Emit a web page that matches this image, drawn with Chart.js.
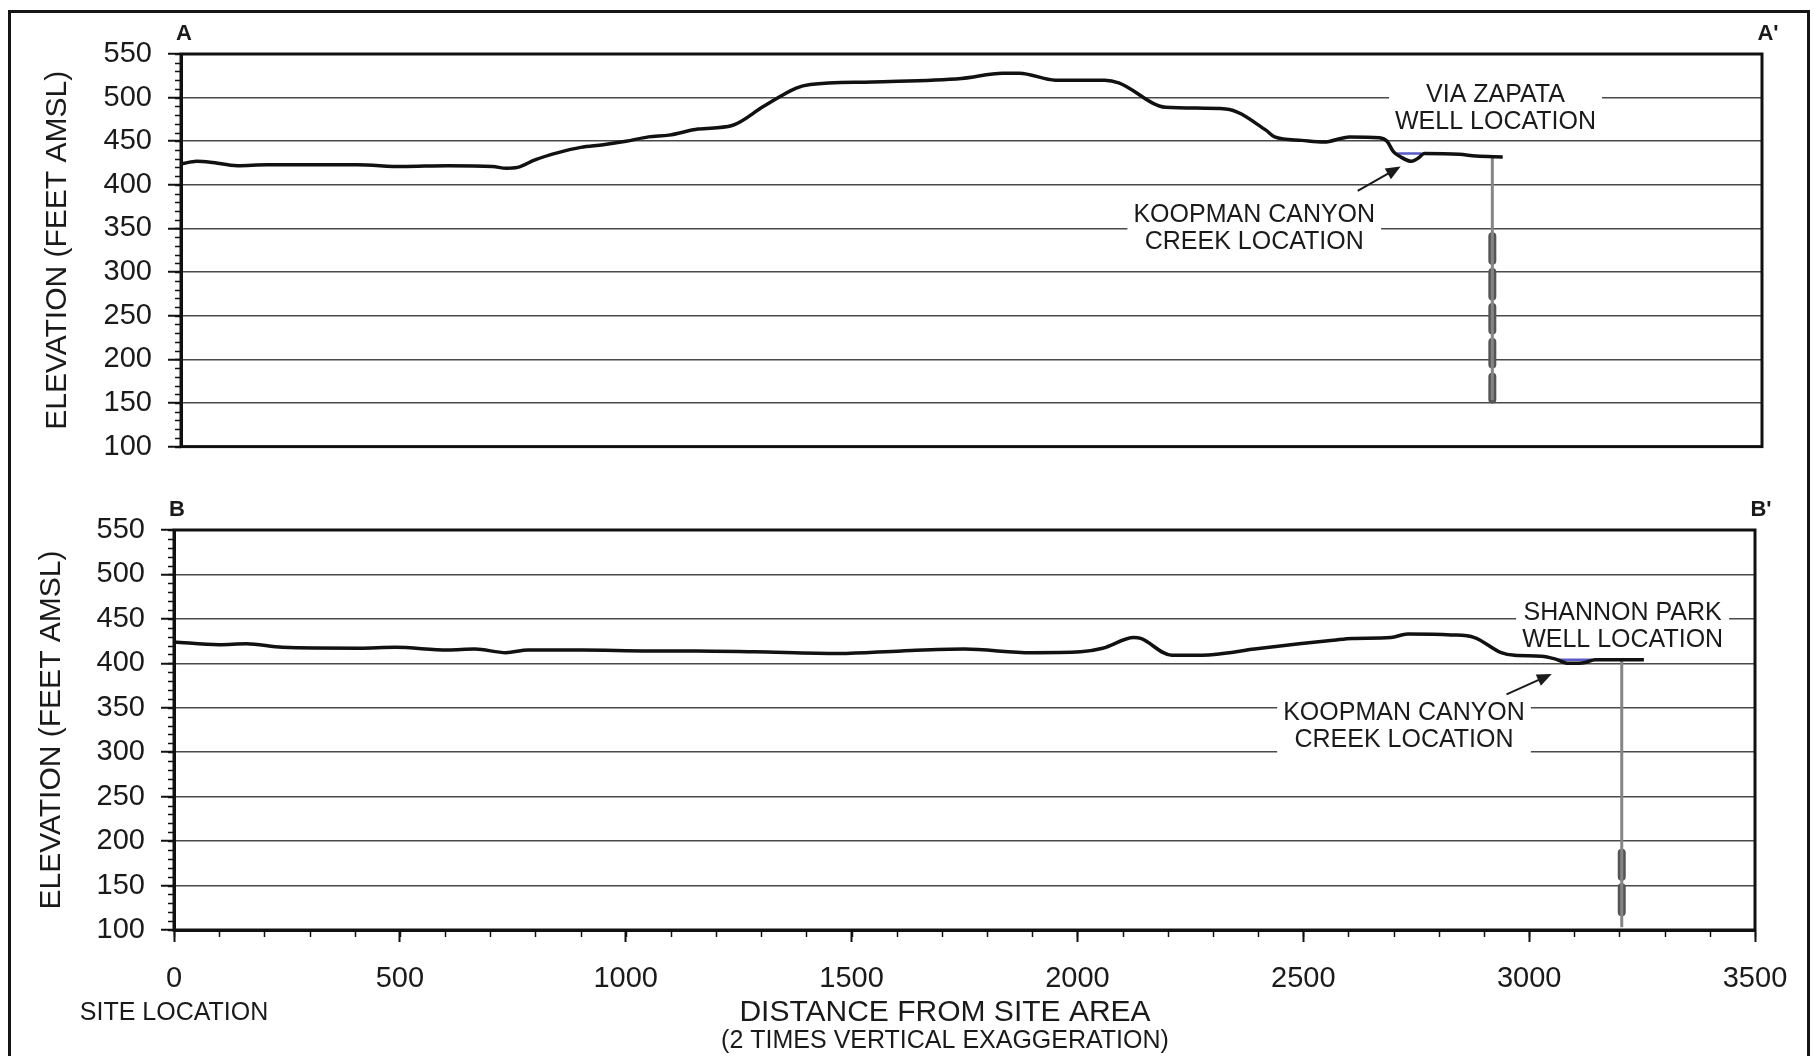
<!DOCTYPE html>
<html>
<head>
<meta charset="utf-8">
<script src="https://cdn.jsdelivr.net/npm/chart.js@4.4.1/dist/chart.umd.min.js"></script>
<style>
html,body{margin:0;padding:0;background:#fff;width:1814px;height:1056px;overflow:hidden;position:relative;}
#frame{position:absolute;left:8px;top:10px;width:1802px;height:1100px;border:3px solid #151515;border-bottom:none;box-sizing:border-box;}
#wrapA{position:absolute;left:0;top:0;width:1814px;height:480px;}
#wrapB{position:absolute;left:0;top:480px;width:1814px;height:576px;}
canvas{display:block;}
</style>
</head>
<body>
<div id="frame"></div>
<div id="wrapA"><canvas id="chartA"></canvas></div>
<div id="wrapB"><canvas id="chartB"></canvas></div>
<script>
// ---------- data ----------
const elevTicks = [100, 150, 200, 250, 300, 350, 400, 450, 500, 550];
const distTicks = [0, 500, 1000, 1500, 2000, 2500, 3000, 3500];

// Section A - A'
const profileADist = [0, 35, 65, 125, 190, 390, 490, 590, 690, 720, 745, 785, 835, 885, 935, 985, 1035, 1080, 1145, 1220, 1290, 1362, 1393, 1531, 1728, 1819, 1856, 1936, 2045, 2076, 2180, 2313, 2401, 2421, 2481, 2530, 2587, 2653, 2670, 2684, 2700, 2724, 2740, 2752, 2830, 2867, 2926];
const profileAElev = [424, 427, 426, 422, 423, 423, 421, 422, 421, 419, 420, 429, 437, 443, 446, 450, 455, 457, 464, 468, 490, 511, 515, 518, 522, 528, 528, 520, 520, 517, 489, 487, 463, 455, 451, 449, 455, 454, 450, 438, 432, 427, 431, 436, 435, 433, 432];
const wellADist = [2903, 2903];
const wellAElev = [431, 153];
const screenATop = [341, 300, 260, 220, 180];
const screenABottom = [313, 272, 233, 194, 154];
const waterADist = [2692, 2746];
const waterAElev = [436, 436];

// Section B - B'
const profileBDist = [0, 100, 160, 240, 410, 490, 606, 666, 735, 784, 903, 1052, 1156, 1284, 1472, 1611, 1749, 1898, 2007, 2056, 2125, 2140, 2209, 2244, 2303, 2392, 2491, 2567, 2608, 2694, 2731, 2827, 2879, 2938, 2968, 3027, 3057, 3087, 3124, 3146, 3205, 3254];
const profileBElev = [424, 421, 422, 418, 417, 418, 415, 416, 412, 415, 415, 414, 414, 413, 411, 414, 416, 412, 413, 417, 429, 428, 409, 409, 410, 416, 422, 426, 428, 429, 433, 432, 429, 412, 409, 408, 405, 400, 401, 404, 404, 404];
const wellBDist = [3205, 3205];
const wellBElev = [404, 103];
const screenBTop = [187, 148];
const screenBBottom = [160, 120];
const waterBDist = [3062, 3140];
const waterBElev = [404, 404];

// ---------- helpers ----------
const FONT = "'Liberation Sans', Arial, Helvetica, sans-serif";
const INK = '#1a1a1a';
const zip = (xs, ys) => xs.map((v, i) => ({x: v, y: ys[i]}));
function screenPoints(xv, tops, bottoms) {
  const pts = [];
  tops.forEach((t, i) => { pts.push({x: xv, y: t}, {x: xv, y: bottoms[i]}, {x: xv, y: null}); });
  return pts;
}

function decor(opts) {
  return {
    id: 'decor' + opts.key,
    beforeDatasetsDraw(chart) {
      const {ctx, scales: {x, y}} = chart;
      ctx.save();
      ctx.font = '25px ' + FONT;
      ctx.textAlign = 'center';
      ctx.textBaseline = 'middle';
      for (const a of opts.labels) {
        const cx = x.getPixelForValue(a.x), cy = y.getPixelForValue(a.y);
        const w = Math.max(...a.lines.map(t => ctx.measureText(t).width)) + 12;
        const h = a.lines.length * 27 + 2;
        ctx.fillStyle = '#fff';
        ctx.fillRect(cx - w / 2, cy - h / 2, w, h);
        ctx.fillStyle = INK;
        a.lines.forEach((t, i) => ctx.fillText(t, cx, cy + (i - (a.lines.length - 1) / 2) * 27 + 1));
      }
      // arrow
      const ar = opts.arrow;
      const x1 = x.getPixelForValue(ar.from[0]), y1 = y.getPixelForValue(ar.from[1]);
      const x2 = x.getPixelForValue(ar.to[0]), y2 = y.getPixelForValue(ar.to[1]);
      const ang = Math.atan2(y2 - y1, x2 - x1);
      ctx.strokeStyle = INK; ctx.fillStyle = INK; ctx.lineWidth = 2;
      ctx.beginPath(); ctx.moveTo(x1, y1);
      ctx.lineTo(x2 - 10 * Math.cos(ang), y2 - 10 * Math.sin(ang)); ctx.stroke();
      ctx.beginPath();
      ctx.moveTo(x2, y2);
      ctx.lineTo(x2 - 16 * Math.cos(ang - 0.4), y2 - 16 * Math.sin(ang - 0.4));
      ctx.lineTo(x2 - 16 * Math.cos(ang + 0.4), y2 - 16 * Math.sin(ang + 0.4));
      ctx.closePath(); ctx.fill();
      ctx.restore();
    },
    afterDraw(chart) {
      const {ctx, chartArea: ca, scales: {x, y}} = chart;
      ctx.save();
      // frame of the plot area
      ctx.strokeStyle = '#111'; ctx.lineWidth = 3;
      ctx.strokeRect(ca.left, ca.top, ca.right - ca.left, ca.bottom - ca.top);
      // minor ticks on the elevation axis
      ctx.lineWidth = 1.5;
      ctx.beginPath();
      for (let v = 100; v <= 550; v += 10) {
        const py = Math.round(y.getPixelForValue(v)) + 0.5;
        ctx.moveTo(ca.left - 6, py); ctx.lineTo(ca.left, py);
      }
      if (opts.xMinor) {
        for (let v = 0; v <= 3500; v += 100) {
          const px = Math.round(x.getPixelForValue(v)) + 0.5;
          ctx.moveTo(px, ca.bottom); ctx.lineTo(px, ca.bottom + 7);
        }
      }
      ctx.stroke();
      // section letters
      ctx.fillStyle = INK;
      ctx.font = 'bold 22px ' + FONT;
      ctx.textAlign = 'center'; ctx.textBaseline = 'middle';
      ctx.fillText(opts.letter, ca.left + 3, ca.top - 20);
      ctx.fillText(opts.letter + "'", ca.right + 6, ca.top - 20);
      if (opts.footer) {
        ctx.font = '25px ' + FONT;
        ctx.fillText('SITE LOCATION', x.getPixelForValue(0), ca.bottom + 83);
        ctx.font = '30px ' + FONT;
        ctx.fillText('DISTANCE FROM SITE AREA', 945, ca.bottom + 83);
        ctx.font = '25px ' + FONT;
        ctx.fillText('(2 TIMES VERTICAL EXAGGERATION)', 945, ca.bottom + 111);
      }
      ctx.restore();
    }
  };
}

function yAxis(width, titlePad) {
  return {
    type: 'linear', min: 100, max: 550,
    afterBuildTicks: s => { s.ticks = elevTicks.map(v => ({value: v})); },
    afterFit: s => { s.width = width; },
    ticks: {font: {family: FONT, size: 29}, color: INK, padding: 16, autoSkip: false,
      callback: v => String(v)},
    grid: {
      color: c => (c.tick && (c.tick.value === 100 || c.tick.value === 550)) ? 'rgba(0,0,0,0)' : '#4a4a4a',
      lineWidth: 1.5, tickLength: 13, tickColor: '#111', tickWidth: 2
    },
    border: {display: true, color: '#111', width: 3},
    title: {display: true, text: 'ELEVATION (FEET AMSL)', color: INK,
      font: {family: FONT, size: 30}, padding: {top: titlePad, bottom: 0}}
  };
}

function datasets(pd, pe, wd, we, st, sb, wtd, wte) {
  return [
    {label: 'Ground surface', data: zip(pd, pe), borderColor: '#111', borderWidth: 3.5,
      pointRadius: 0, cubicInterpolationMode: 'monotone'},
    {label: 'Water', data: zip(wtd, wte), borderColor: '#5a5ac8', borderWidth: 2.5, pointRadius: 0},
    {label: 'Well', data: zip(wd, we), borderColor: '#858585', borderWidth: 3, pointRadius: 0},
    {label: 'Screen', data: screenPoints(wd[0], st, sb), borderColor: '#555', borderWidth: 8,
      borderCapStyle: 'round', pointRadius: 0, spanGaps: false}
  ];
}

const common = {
  responsive: true, maintainAspectRatio: false, animation: false, devicePixelRatio: 1,
  plugins: {legend: {display: false}, tooltip: {enabled: false}},
  elements: {line: {tension: 0}}
};

new Chart(document.getElementById('chartA'), {
  type: 'line',
  data: {datasets: datasets(profileADist, profileAElev, wellADist, wellAElev, screenATop, screenABottom, waterADist, waterAElev)},
  options: Object.assign({}, common, {
    layout: {padding: {left: 0, top: 54, right: 52, bottom: 26}},
    scales: {
      x: {type: 'linear', min: 0, max: 3500, display: false},
      y: yAxis(181, 40)
    }
  }),
  plugins: [decor({key: 'A', letter: 'A', xMinor: false,
    labels: [
      {lines: ['VIA ZAPATA', 'WELL LOCATION'], x: 2910, y: 488},
      {lines: ['KOOPMAN CANYON', 'CREEK LOCATION'], x: 2376, y: 351}
    ],
    arrow: {from: [2605, 393], to: [2700, 421]}
  })]
});

new Chart(document.getElementById('chartB'), {
  type: 'line',
  data: {datasets: datasets(profileBDist, profileBElev, wellBDist, wellBElev, screenBTop, screenBBottom, waterBDist, waterBElev)},
  options: Object.assign({}, common, {
    layout: {padding: {left: 0, top: 50, right: 59, bottom: 0}},
    scales: {
      x: {
        type: 'linear', min: 0, max: 3500,
        afterBuildTicks: s => { s.ticks = distTicks.map(v => ({value: v})); },
        afterFit: s => { s.height = 126; },
        ticks: {font: {family: FONT, size: 29}, color: INK, padding: 20, maxRotation: 0, autoSkip: false,
          callback: v => String(v)},
        grid: {drawOnChartArea: false, tickLength: 12, tickColor: '#111', tickWidth: 2, color: '#111'},
        border: {display: true, color: '#111', width: 3}
      },
      y: yAxis(174, 34)
    }
  }),
  plugins: [decor({key: 'B', letter: 'B', xMinor: true, footer: true,
    labels: [
      {lines: ['SHANNON PARK', 'WELL LOCATION'], x: 3207, y: 443},
      {lines: ['KOOPMAN CANYON', 'CREEK LOCATION'], x: 2723, y: 329.5}
    ],
    arrow: {from: [2950, 365], to: [3050, 388]}
  })]
});
</script>
</body>
</html>
